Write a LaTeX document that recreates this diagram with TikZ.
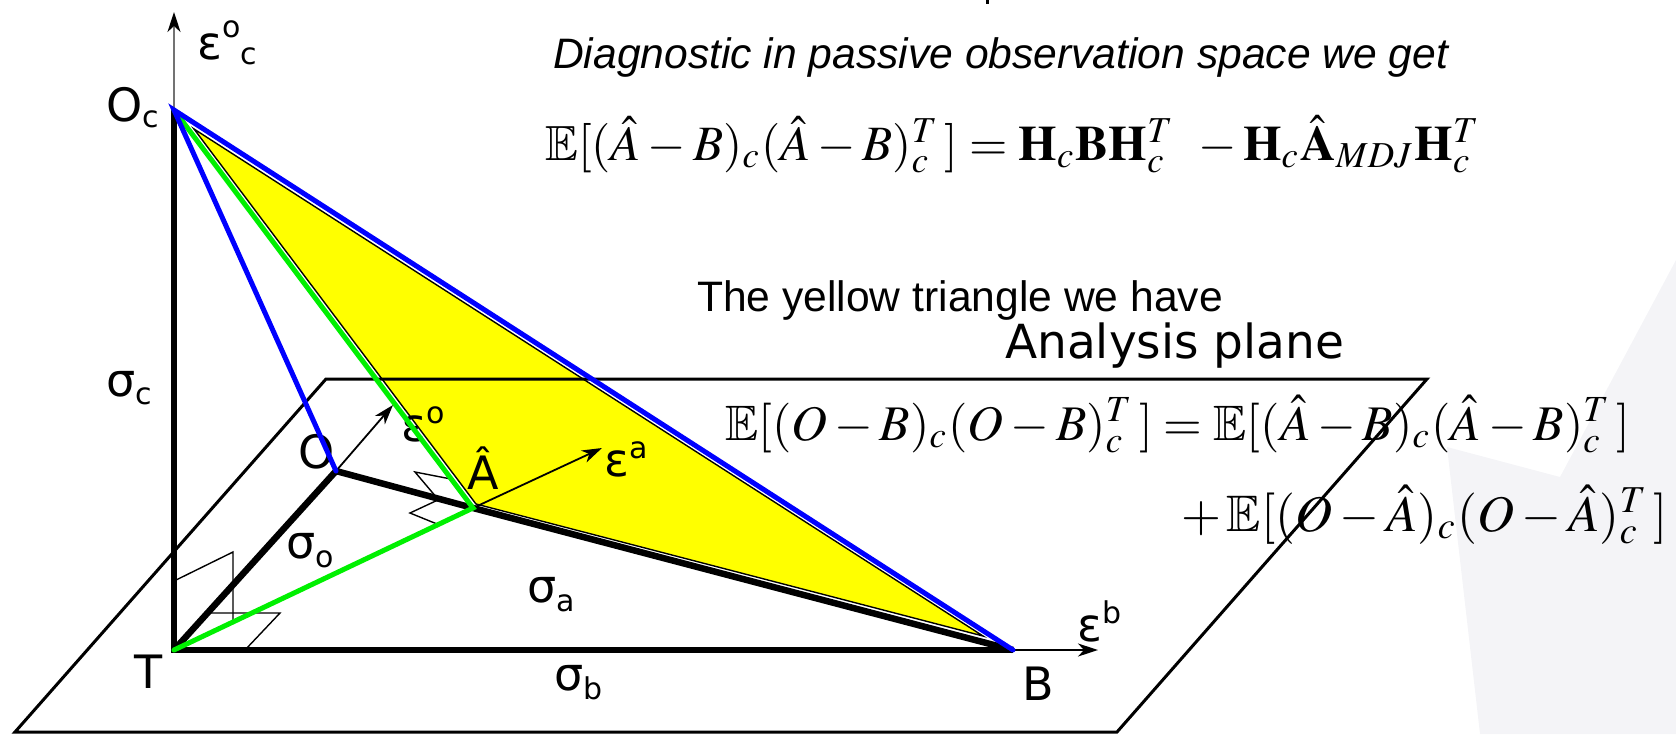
\documentclass[tikz,border=0pt]{standalone}
\usepackage{mathptmx}
\usepackage{amssymb}
\usepackage[no-math]{fontspec}
\usepackage{graphicx}
\newfontfamily\arialf{Liberation Sans}
\newfontfamily\dvs{DejaVu Sans}
\usetikzlibrary{arrows.meta}
\newcommand\lsub[2][-9pt]{\raisebox{#1}{\fontsize{30}{30}\selectfont #2}}
\newcommand\lsup[2][18pt]{\raisebox{#1}{\fontsize{30}{30}\selectfont #2}}
\definecolor{bggray}{RGB}{244,244,247}
\definecolor{ylw}{RGB}{255,255,0}
\definecolor{grn}{RGB}{0,240,0}
\definecolor{blu}{RGB}{0,0,255}
\tikzset{
  lab/.style={font=\dvs\fontsize{46}{50}\selectfont, inner sep=0pt, anchor=base west},
  txt/.style={font=\arialf\fontsize{42.6}{48}\selectfont, inner sep=0pt, anchor=base west},
  frm/.style={inner sep=0pt, anchor=base west},
  thick line/.style={line width=6.5pt, line join=miter, line cap=butt},
  plane line/.style={line width=3pt, line join=miter},
  thin mark/.style={line width=1.4pt},
  vec/.style={line width=1.8pt, -{Stealth[length=20pt,width=13pt,inset=6pt,black]}},
  grnline/.style={grn, line width=5pt, line cap=round},
  bluline/.style={blu, line width=5pt, line cap=round},
}
\begin{document}
\begin{tikzpicture}[x=1pt,y=-1pt]
\useasboundingbox (0,0) rectangle (1676,734);
% points
\coordinate (T) at (174,650);
\coordinate (B) at (1013,650);
\coordinate (Oc) at (174,110);
\coordinate (O) at (336,471);
\coordinate (Ah) at (473,508);
\coordinate (axtop) at (174,12);
\coordinate (ebtip) at (1098,650);
\coordinate (eotip) at (393,405);
\coordinate (eatip) at (602,448);
\coordinate (P1) at (15,732);
\coordinate (P2) at (326,379);
\coordinate (P3) at (1427,379);
\coordinate (P4) at (1117,732);
\coordinate (Y1) at (194,129);
\coordinate (Y2) at (476,504);
\coordinate (Y3) at (983,636);
% background watermark
\fill[bggray] (1447,447) -- (1560,477) -- (1676,260) -- (1676,734) -- (1480,734) -- cycle;
% cut-off mark at the top edge
\draw[line width=3pt] (987,0) -- (987,4);
% yellow triangle
\filldraw[fill=ylw, draw=black, line width=1.4pt] (Y1) -- (Y2) -- (Y3) -- cycle;
% analysis plane
\draw[plane line] (P1) -- (P2) -- (P3) -- (P4) -- cycle;
% right angle marks
\draw[thin mark] (174,581) -- (233,552) -- (233,621);
\draw[thin mark] (208,613) -- (280,613) -- (245,650);
\draw[thin mark] (451,479) -- (415,472) -- (437,498);
\draw[thin mark] (440,499) -- (410,513) -- (437,524);
% texts
\node[txt, font=\arialf\itshape\fontsize{42.6}{48}\selectfont] (diag) at (553,68) {Diagnostic in passive observation space we get};
\node[frm] (f1) at (545,160) {\resizebox{935pt}{!}{$\mathbb{E}[(\hat{A}-B)_c(\hat{A}-B)_c^T\,]=\mathbf{H}_c\mathbf{B}\mathbf{H}_c^T\;\,-\mathbf{H}_c\hat{\mathbf{A}}_{MDJ}\mathbf{H}_c^T$}};
\node[txt] (yel) at (697,311) {The yellow triangle we have};
\node[lab, font=\dvs\fontsize{47}{50}\selectfont] (ap) at (1005,358) {Analysis plane};
\node[frm] (f2) at (725,440) {\resizebox{905pt}{!}{$\mathbb{E}[(O-B)_c(O-B)_c^T\,]=\mathbb{E}[(\hat{A}-B)_c(\hat{A}-B)_c^T\,]$}};
\node[frm] (f3) at (1181,531) {\resizebox{487pt}{!}{$+\,\mathbb{E}[(O-\hat{A})_c(O-\hat{A})_c^T\,]$}};
% thin arrows
\draw[vec, black!55, line width=2pt] (Oc) -- (axtop);
\draw[vec] (O) -- (eotip);
\draw[vec] (Ah) -- (eatip);
\draw[vec] (B) -- (ebtip);
% labels
\node[lab] (lEoc) at (197,59) {ε\lsup[22pt]{o}\lsub[-5pt]{c}};
\node[lab] (lOc) at (106,121) {O\lsub[-6pt]{c}};
\node[lab] (lsc) at (106,396) {σ\lsub[-8pt]{c}};
\node[lab] (lO) at (298,468) {O};
\node[lab] (lEo) at (401,441) {ε\lsup{o}};
\node[lab] (lAh) at (467,489) {Â};
\node[lab] (lEa) at (604,476) {ε\lsup{a}};
\node[lab] (lso) at (286,558) {σ\lsub{o}};
\node[lab] (lsa) at (527,602) {σ\lsub{a}};
\node[lab] (lsb) at (554,690) {σ\lsub{b}};
\node[lab] (lT) at (134,688) {T};
\node[lab] (lB) at (1022,700) {B};
\node[lab] (lEb) at (1077,641) {ε\lsup{b}};
% thick black lines
\draw[thick line] (Oc) -- (T) -- (B);
\draw[thick line] (T) -- (O) -- (Ah) -- (B);
% coloured lines
\draw[grnline] (Oc) -- (Ah) -- (T);
\draw[bluline] (O) -- (Oc) -- (B);
\end{tikzpicture}
\end{document}
